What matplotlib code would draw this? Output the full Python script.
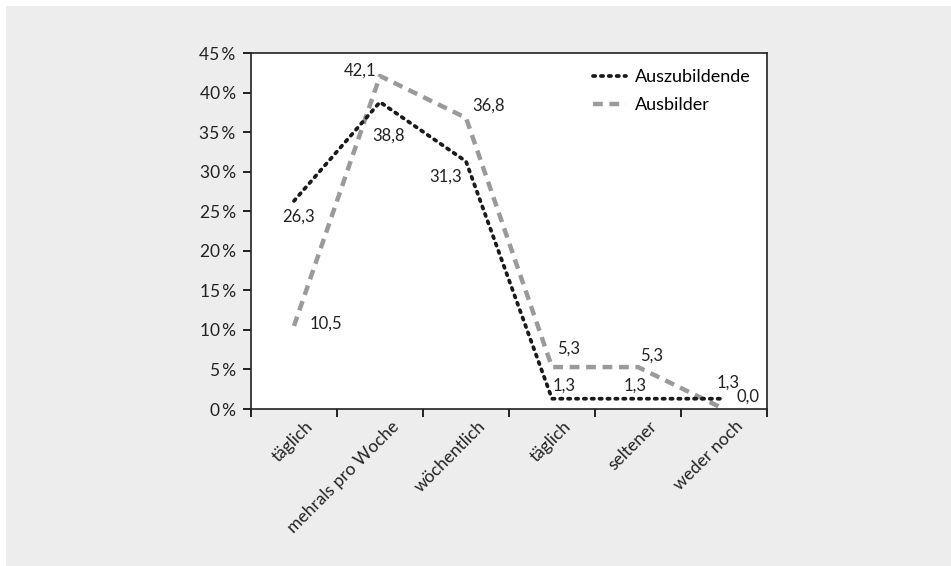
import matplotlib.pyplot as plt
from matplotlib.patches import Rectangle
from matplotlib.ticker import FixedLocator, NullFormatter

plt.rcParams['font.family'] = ['Lato', 'DejaVu Sans']

kategorien = ['täglich', 'mehrals pro Woche', 'wöchentlich', 'täglich', 'seltener', 'weder noch']
auszubildende = [26.3, 38.8, 31.3, 1.3, 1.3, 1.3]
ausbilder = [10.5, 42.1, 36.8, 5.3, 5.3, 0.0]
y_ticks = [0, 5, 10, 15, 20, 25, 30, 35, 40, 45]

# label offsets in points (dx, dy)
off_azubi = [(3, -11.5), (6.5, -24.5), (-15, -11), (9, 9.4), (-2, 9.4), (3, 11.5)]
off_ausb = [(23, 2), (-14.5, 4), (16.5, 8.5), (12, 13), (9.7, 8.6), (17, 8.6)]

fig = plt.figure(figsize=(9.51, 5.66), dpi=100, facecolor='white')
fig.patches.append(Rectangle((6 / 951, 0), 1, 1 - 6 / 566, transform=fig.transFigure,
                             facecolor='#ededed', edgecolor='none', zorder=-10))
ax = fig.add_axes([251 / 951, 1 - 409 / 566, 516 / 951, 356 / 566])
ax.set_facecolor('white')

x = list(range(len(kategorien)))
ax.plot(x, auszubildende, color='#1a1a1a', linestyle=(0, (0.6, 1.5)), linewidth=2.7,
        dash_capstyle='round', label='Auszubildende', zorder=3)
ax.plot(x, ausbilder, color='#9a9a9c', linestyle=(0, (2.2, 1.5)), linewidth=3.2,
        label='Ausbilder', zorder=2)

for i, v in enumerate(auszubildende):
    ax.annotate(f'{v:.1f}'.replace('.', ','), (i, v), xytext=off_azubi[i], textcoords='offset points',
                ha='center', va='center', fontsize=12, color='#222222')
for i, v in enumerate(ausbilder):
    ax.annotate(f'{v:.1f}'.replace('.', ','), (i, v), xytext=off_ausb[i], textcoords='offset points',
                ha='center', va='center', fontsize=12, color='#222222')

ax.set_xlim(-0.5, len(kategorien) - 0.5)
ax.set_ylim(0, 45)
ax.xaxis.set_major_locator(FixedLocator([i - 0.5 for i in range(len(kategorien) + 1)]))
ax.xaxis.set_major_formatter(NullFormatter())
ax.tick_params(axis='x', which='major', length=6, width=1.2, direction='out')

# category labels, rotated, top-right corner a bit right of the category centre
for i, k in enumerate(kategorien):
    ax.annotate(k, (i, 0), xycoords=('data', 'axes fraction'), xytext=(8, -6.5),
                textcoords='offset points', rotation=45, ha='right', va='top',
                rotation_mode='anchor', fontsize=12.5, color='#222222', annotation_clip=False)

ax.set_yticks(y_ticks)
ax.set_yticklabels([f'{t}\u2009%' for t in y_ticks], fontsize=12.5, color='#222222')
ax.tick_params(axis='y', length=6, width=1.2, direction='out', pad=5)
for s in ax.spines.values():
    s.set_linewidth(1.2)
    s.set_color('#222222')

ax.legend(loc='upper right', bbox_to_anchor=(1.0, 1.0), frameon=False, fontsize=13,
          handlelength=1.8, handletextpad=0.5, labelspacing=0.65)

fig.savefig('out.png', dpi=100, facecolor=fig.get_facecolor())
